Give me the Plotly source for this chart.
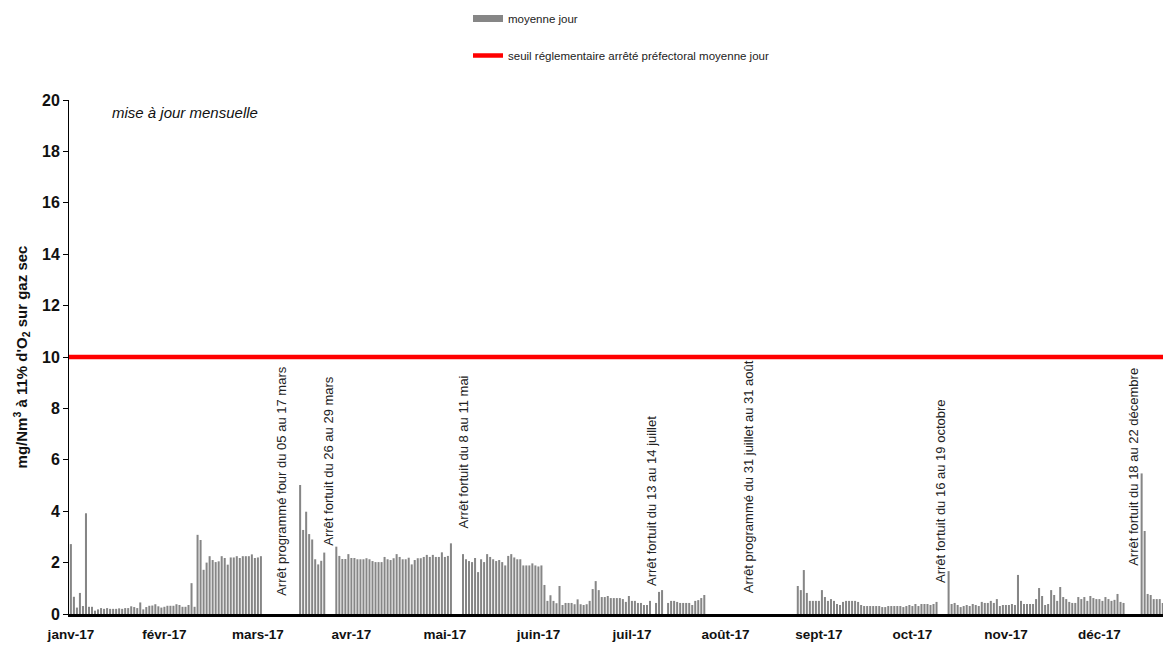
import pandas as pd
import plotly.graph_objects as go

# ---- data: daily mean values (mg/Nm3 at 11% O2, dry gas), None = shutdown / no data
jan = [2.72, 0.67, 0.25, 0.82, 0.31, 3.92, 0.28, 0.28, 0.13, 0.18, 0.23, 0.20, 0.23, 0.20, 0.20, 0.20,
       0.22, 0.20, 0.23, 0.23, 0.30, 0.27, 0.23, 0.45, 0.18, 0.27, 0.32, 0.33, 0.38, 0.30, 0.25]
feb = [0.28, 0.32, 0.32, 0.32, 0.38, 0.35, 0.28, 0.28, 0.35, 1.20, 0.28, 3.08, 2.88, 1.72, 2.00, 2.25,
       2.10, 2.02, 2.05, 2.25, 2.18, 1.92, 2.20, 2.20, 2.25, 2.18, 2.25, 2.25]
mar = [2.25, 2.32, 2.18, 2.20, 2.25] + [None] * 12 + \
      [5.02, 3.27, 3.98, 3.11, 2.90, 2.13, 1.93, 2.07, 2.39] + [None] * 3 + [2.62, 2.26]
apr = [2.14, 2.14, 2.33, 2.18, 2.18, 2.13, 2.13, 2.13, 2.17, 2.13, 2.06, 2.02, 2.02, 2.02, 2.22,
       2.13, 2.10, 2.17, 2.33, 2.22, 2.13, 2.13, 2.19, 1.93, 2.10, 2.17, 2.17, 2.22, 2.30, 2.22]
may = [2.30, 2.22, 2.22, 2.40, 2.22, 2.26, 2.75] + [None] * 3 + \
      [2.33, 2.13, 2.06, 2.02, 2.18, 1.63, 2.13, 2.02, 2.33, 2.22, 2.13, 2.06, 2.10, 2.02, 1.89,
       2.26, 2.33, 2.20, 2.13, 2.13, 1.89]
jun = [1.89, 1.89, 1.97, 1.89, 1.85, 1.89, 1.13, 0.51, 0.73, 0.51, 0.42, 1.09, 0.35, 0.43, 0.43,
       0.43, 0.38, 0.57, 0.38, 0.35, 0.38, 0.51, 0.97, 1.28, 0.93, 0.66, 0.66, 0.70, 0.62, 0.62]
jul = [0.62, 0.62, 0.58, 0.47, 0.70, 0.51, 0.51, 0.43, 0.43, 0.35, 0.35, 0.51, None, 0.43, 0.86,
       0.93, None, 0.43, 0.51, 0.51, 0.47, 0.43, 0.43, 0.43, 0.43, 0.35, 0.51, 0.54, 0.62, 0.74, None]
aug = [None] * 29 + [1.09, 0.93]
sep = [1.71, 0.82, 0.51, 0.51, 0.51, 0.51, 0.93, 0.66, 0.51, 0.58, 0.51, 0.39, 0.35, 0.47, 0.51,
       0.51, 0.51, 0.51, 0.47, 0.35, 0.31, 0.31, 0.31, 0.31, 0.31, 0.31, 0.27, 0.27, 0.31, 0.31]
oct_ = [0.31, 0.31, 0.31, 0.27, 0.31, 0.35, 0.31, 0.39, 0.31, 0.39, 0.39, 0.39, 0.35, 0.39, 0.47] + \
       [None] * 3 + [1.67, 0.39, 0.43, 0.35, 0.27, 0.31, 0.35, 0.31, 0.39, 0.35, 0.31, 0.47, 0.43]
nov = [0.43, 0.51, 0.43, 0.58, 0.31, 0.35, 0.35, 0.35, 0.39, 0.35, 1.52, 0.51, 0.39, 0.39, 0.39,
       0.39, 0.58, 1.01, 0.70, 0.35, 0.39, 0.93, 0.74, 0.51, 1.05, 0.66, 0.58, 0.47, 0.43, 0.43]
dec = [0.66, 0.58, 0.66, 0.51, 0.70, 0.62, 0.58, 0.58, 0.51, 0.66, 0.58, 0.51, 0.55, 0.78, 0.47,
       0.43] + [None] * 5 + [5.47, 3.23, 0.78, 0.74, 0.58, 0.58, 0.58, 0.43]

threshold = 10
month_labels = ["janv-17", "févr-17", "mars-17", "avr-17", "mai-17", "juin-17",
                "juil-17", "août-17", "sept-17", "oct-17", "nov-17", "déc-17"]

notes_text = ["Arrêt programmé four du 05 au 17 mars",
              "Arrêt fortuit du 26 au 29 mars",
              "Arrêt fortuit du 8 au 11 mai",
              "Arrêt fortuit du 13 au 14 juillet",
              "Arrêt programmé du 31 juillet au 31 août",
              "Arrêt fortuit du 16 au 19 octobre",
              "Arrêt fortuit du 18 au 22 décembre"]
notes_date = ["2017-03-11 14:00", "2017-03-27 12:00", "2017-05-11 00:00", "2017-07-12 08:00",
              "2017-08-13 18:00", "2017-10-16 12:00", "2017-12-19 02:00"]
notes_y = [0.62, 2.57, 3.27, 1.01, 0.74, 1.13, 1.79]

# ---- build
values = jan + feb + mar + apr + may + jun + jul + aug + sep + oct_ + nov + dec
start = pd.Timestamp("2017-01-01")
dates = [start + pd.Timedelta(days=i) for i in range(len(values))]
x_lo = start - pd.Timedelta(hours=15)
x_hi = start + pd.Timedelta(hours=int(362.1 * 24))
tick_dates = [start + pd.Timedelta(days=31 * k) for k in range(len(month_labels))]

FONT = "Liberation Sans, Arial, sans-serif"
GRAY = "#868686"

fig = go.Figure()
fig.add_trace(go.Bar(x=dates, y=values, marker=dict(color=GRAY, line=dict(width=0)),
                     showlegend=False, name="moyenne jour"))
fig.add_trace(go.Scatter(x=[None], y=[None], mode="lines", line=dict(color=GRAY, width=7),
                         name="moyenne jour", legendgroup="a"))
fig.add_trace(go.Scatter(x=[x_lo, x_hi], y=[threshold, threshold], mode="lines",
                         line=dict(color="#ff0000", width=4.5),
                         name="seuil réglementaire arrêté préfectoral moyenne jour", legendgroup="b"))

for t, d, yv in zip(notes_text, notes_date, notes_y):
    fig.add_annotation(x=d, y=yv, text=t, textangle=-90, showarrow=False,
                       xanchor="center", yanchor="bottom",
                       font=dict(family=FONT, size=13, color="#222222"))

fig.add_annotation(xref="paper", yref="paper", x=(110 - 69) / 1094, y=(614 - 112) / 514,
                   text="<i>mise à jour mensuelle</i>", showarrow=False,
                   xanchor="left", yanchor="middle",
                   font=dict(family=FONT, size=15, color="#111111"))

fig.update_layout(
    width=1163, height=645,
    margin=dict(l=69, r=0, t=100, b=31),
    plot_bgcolor="white", paper_bgcolor="white",
    bargap=0.33,
    font=dict(family=FONT, color="#111111"),
    showlegend=True,
    legend=dict(x=(468 - 69) / 1094, xanchor="left", y=(614 - 4) / 514, yanchor="top",
                font=dict(family=FONT, size=11.5, color="#222222"),
                tracegroupgap=18, bgcolor="rgba(0,0,0,0)"),
)
fig.update_xaxes(type="date", range=[x_lo, x_hi], showgrid=False, zeroline=False,
                 showline=True, linecolor="black", linewidth=2.5,
                 tickvals=tick_dates, ticktext=["<b>%s</b>" % m for m in month_labels],
                 ticks="outside", ticklen=6, tickcolor="rgba(0,0,0,0)",
                 tickfont=dict(family=FONT, size=13.5, color="#111111"))
fig.update_yaxes(range=[0, 20], dtick=2, showgrid=False, zeroline=False,
                 showline=True, linecolor="black", linewidth=1,
                 ticks="outside", ticklen=5, tickcolor="black",
                 tickprefix="<b>", ticksuffix="</b>",
                 tickfont=dict(family=FONT, size=16, color="#111111"),
                 title=dict(text="<b>mg/Nm<sup>3</sup> à 11% d'O<sub>2</sub> sur gaz sec</b>",
                            font=dict(family=FONT, size=15, color="#111111"), standoff=10))

fig.write_html("out.html", config={"displayModeBar": False},
               post_script="document.body.style.margin='0';document.body.style.overflow='hidden';")
